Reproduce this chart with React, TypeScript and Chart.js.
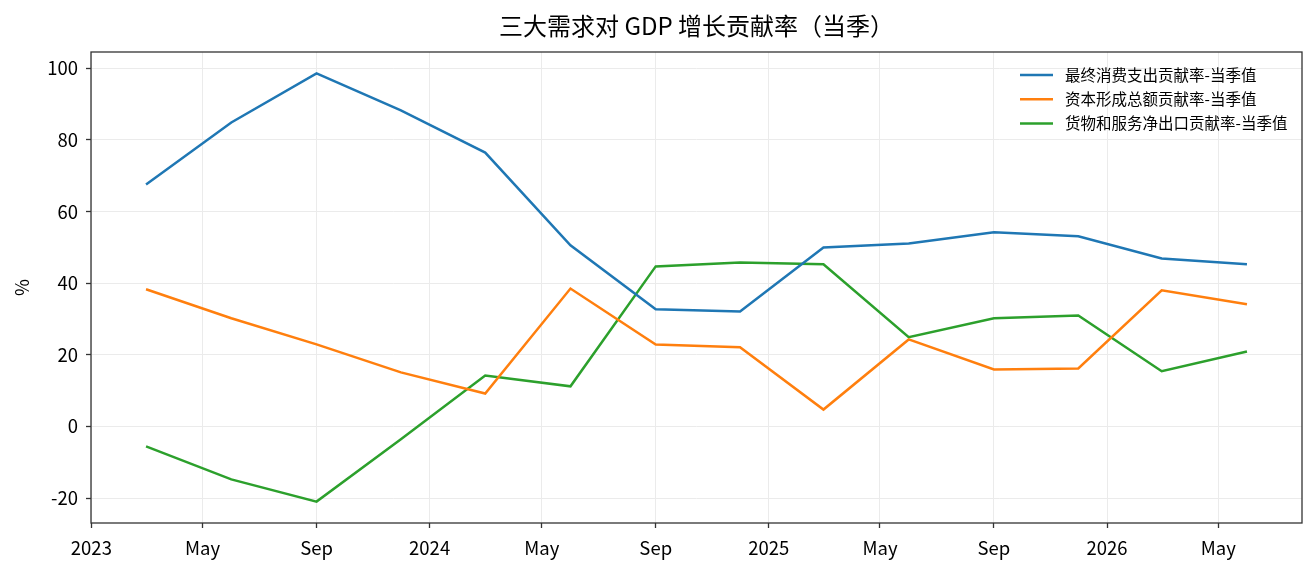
import React, { useEffect, useRef } from 'react';
import { Chart, registerables } from 'chart.js';

Chart.register(...registerables);

const titleText = '三大需求对 GDP 增长贡献率（当季）';
const yAxisTitle = '%';

const quarters = [
  '2023-03-01', '2023-06-01', '2023-09-01', '2023-12-01',
  '2024-03-01', '2024-06-01', '2024-09-01', '2024-12-01',
  '2025-03-01', '2025-06-01', '2025-09-01', '2025-12-01',
  '2026-03-01', '2026-06-01',
];

const consumption = [67.6, 84.9, 98.6, 88.3, 76.5, 50.6, 32.7, 32.1, 50.0, 51.1, 54.2, 53.1, 46.9, 45.3];
const capital = [38.3, 30.2, 22.9, 15.1, 9.2, 38.5, 22.9, 22.1, 4.7, 24.3, 15.9, 16.2, 38.0, 34.1];
const netExports = [-5.6, -14.8, -21.0, -3.6, 14.2, 11.2, 44.7, 45.8, 45.3, 24.9, 30.2, 31.0, 15.4, 20.9];

const seriesNames = [
  '最终消费支出贡献率-当季值',
  '资本形成总额贡献率-当季值',
  '货物和服务净出口贡献率-当季值',
];
const seriesColors = ['#1f77b4', '#ff7f0e', '#2ca02c'];

const xTickDates = [
  '2023-01-01', '2023-05-01', '2023-09-01',
  '2024-01-01', '2024-05-01', '2024-09-01',
  '2025-01-01', '2025-05-01', '2025-09-01',
  '2026-01-01', '2026-05-01',
];
const xTickLabels = ['2023', 'May', 'Sep', '2024', 'May', 'Sep', '2025', 'May', 'Sep', '2026', 'May'];
const yTicks = [-20, 0, 20, 40, 60, 80, 100];

const FONT = '"Noto Sans CJK SC", "Noto Sans", sans-serif';

const toTs = (s: string) => {
  const [y, m, d] = s.split('-').map(Number);
  return Date.UTC(y, m - 1, d);
};

export default function App() {
  const canvasRef = useRef<HTMLCanvasElement | null>(null);

  useEffect(() => {
    document.body.style.margin = '0';
    const canvas = canvasRef.current;
    if (!canvas) return;

    const xs = quarters.map(toTs);
    const xMinD = Math.min(...xs);
    const xMaxD = Math.max(...xs);
    const xPad = (xMaxD - xMinD) * 0.05;
    const allY = [...consumption, ...capital, ...netExports];
    const yMinD = Math.min(...allY);
    const yMaxD = Math.max(...allY);
    const yPad = (yMaxD - yMinD) * 0.05;

    const tickTs = xTickDates.map(toTs);
    const labelFor = (v: number) => {
      const i = tickTs.indexOf(v);
      return i >= 0 ? xTickLabels[i] : '';
    };

    const seriesData = [consumption, capital, netExports];

    const decorPlugin = {
      id: 'decor',
      afterDraw(chart: any) {
        const { ctx, chartArea } = chart;
        ctx.save();
        // frame
        ctx.strokeStyle = '#333333';
        ctx.lineWidth = 1.3;
        ctx.strokeRect(chartArea.left, chartArea.top, chartArea.right - chartArea.left, chartArea.bottom - chartArea.top);
        // title
        ctx.fillStyle = '#000';
        ctx.font = `24px ${FONT}`;
        ctx.textAlign = 'center';
        ctx.textBaseline = 'middle';
        ctx.fillText(titleText, (chartArea.left + chartArea.right) / 2, 26);
        // legend
        ctx.font = `15.5px ${FONT}`;
        ctx.textAlign = 'left';
        seriesNames.forEach((name, i) => {
          const y = 75 + i * 24.2;
          ctx.strokeStyle = seriesColors[i];
          ctx.lineWidth = 2.5;
          ctx.beginPath();
          ctx.moveTo(1020, y);
          ctx.lineTo(1053, y);
          ctx.stroke();
          ctx.fillStyle = '#000';
          ctx.fillText(name, 1065, y);
        });
        ctx.restore();
      },
    };

    const chart = new Chart(canvas, {
      type: 'line',
      data: {
        datasets: seriesNames.map((name, i) => ({
          label: name,
          data: xs.map((x, j) => ({ x, y: seriesData[i][j] })),
          borderColor: seriesColors[i],
          backgroundColor: seriesColors[i],
          borderWidth: 2.5,
          pointRadius: 0,
          tension: 0,
          fill: false,
        })),
      },
      options: {
        animation: false,
        responsive: false,
        maintainAspectRatio: false,
        layout: { padding: { top: 52, right: 14, left: 0, bottom: 0 } },
        plugins: {
          legend: { display: false },
          title: { display: false },
          tooltip: { enabled: false },
        },
        scales: {
          x: {
            type: 'linear',
            min: xMinD - xPad,
            max: xMaxD + xPad,
            afterBuildTicks: (scale: any) => {
              scale.ticks = tickTs.map((v) => ({ value: v }));
            },
            afterFit: (scale: any) => {
              scale.height = 50;
            },
            ticks: {
              callback: (v: any) => labelFor(Number(v)),
              color: '#000',
              font: { family: FONT, size: 18.5 },
              padding: 9,
              maxRotation: 0,
              autoSkip: false,
            },
            grid: {
              color: '#ebebeb',
              lineWidth: 1,
              tickColor: '#333333',
              tickLength: 5,
              tickWidth: 1.3,
            },
            border: { display: false },
          },
          y: {
            type: 'linear',
            min: yMinD - yPad,
            max: yMaxD + yPad,
            afterBuildTicks: (scale: any) => {
              scale.ticks = yTicks.map((v) => ({ value: v }));
            },
            afterFit: (scale: any) => {
              scale.width = 91;
            },
            title: {
              display: true,
              text: yAxisTitle,
              color: '#000',
              font: { family: FONT, size: 18.5 },
              padding: { top: 11, bottom: 0 },
            },
            ticks: {
              color: '#000',
              font: { family: FONT, size: 18.5 },
              padding: 8,
              autoSkip: false,
            },
            grid: {
              color: '#ebebeb',
              lineWidth: 1,
              tickColor: '#333333',
              tickLength: 5,
              tickWidth: 1.3,
            },
            border: { display: false },
          },
        },
      },
      plugins: [decorPlugin],
    } as any);

    return () => chart.destroy();
  }, []);

  return (
    <div style={{ position: 'absolute', left: 0, top: 0, width: 1316, height: 573 }}>
      <canvas ref={canvasRef} width={1316} height={573} style={{ width: 1316, height: 573, display: 'block' }} />
    </div>
  );
}
